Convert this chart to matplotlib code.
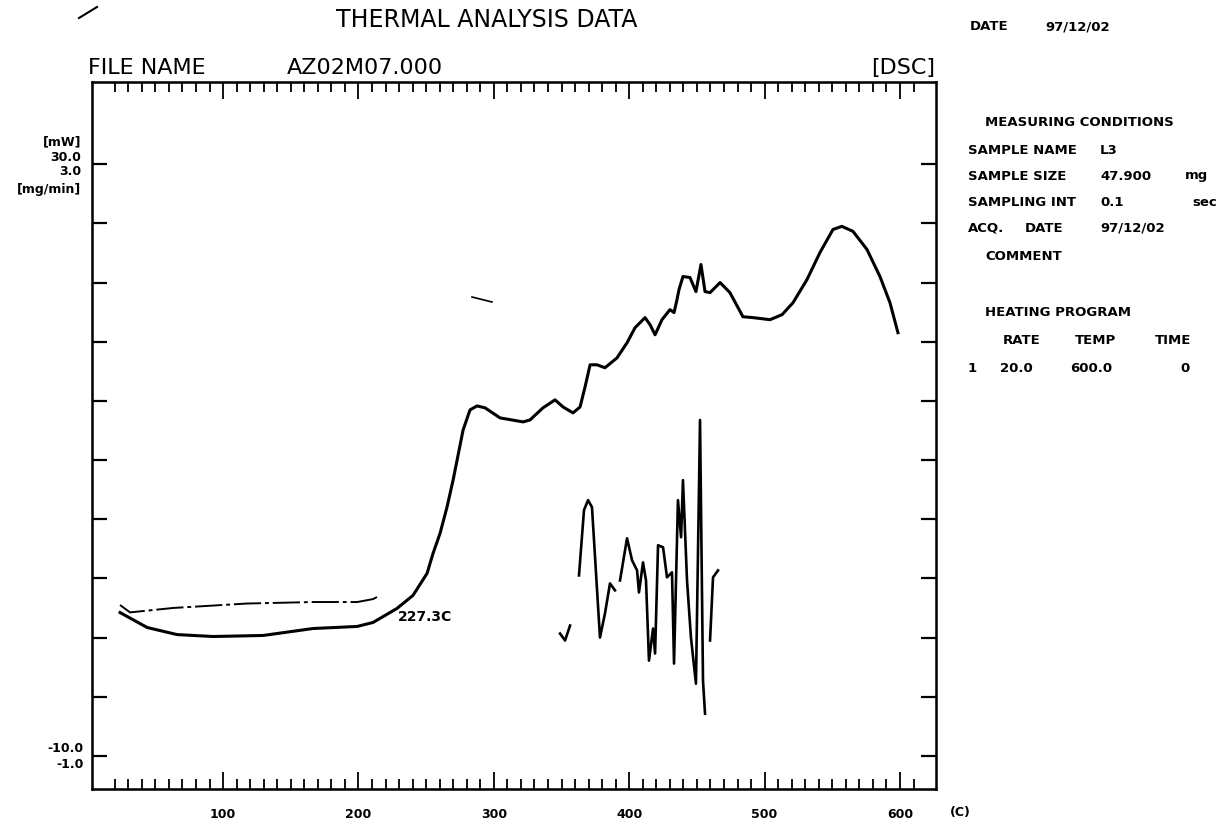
import numpy as np
import matplotlib
matplotlib.use('Agg')
import matplotlib.pyplot as plt
from matplotlib.lines import Line2D

# DSC trace (temperature in C, heat flow in mW)
temp_dsc = [23.9, 43.9, 66.0, 92.6, 129.5, 166.5, 199.0, 210.8, 228.5, 240.3,
            250.7, 255.1, 260.3, 265.4, 269.9, 277.3, 282.4, 287.6, 293.5, 304.6,
            321.6, 326.7, 336.3, 345.2, 351.1, 358.5, 363.7, 367.4, 371.1, 376.2,
            382.1, 391.0, 398.4, 404.3, 411.7, 415.4, 419.1, 424.2, 430.1, 433.1,
            435.3, 436.8, 439.7, 444.9, 449.3, 453.0, 456.0, 459.7, 467.1, 474.4,
            484.0, 491.4, 504.0, 512.9, 521.0, 531.3, 540.9, 550.5, 557.1, 565.3,
            575.6, 585.2, 592.6, 598.5]
dsc_mw = [-0.31, -1.32, -1.80, -1.93, -1.86, -1.39, -1.25, -0.98, -0.03, 0.85,
          2.34, 3.69, 5.05, 6.81, 8.64, 12.03, 13.39, 13.66, 13.53, 12.85,
          12.58, 12.71, 13.53, 14.07, 13.59, 13.19, 13.59, 14.95, 16.44, 16.44,
          16.24, 16.91, 17.93, 18.95, 19.63, 19.15, 18.47, 19.49, 20.17, 19.97,
          20.85, 21.53, 22.41, 22.34, 21.39, 23.22, 21.39, 21.32, 22.00, 21.32,
          19.69, 19.63, 19.49, 19.83, 20.64, 22.20, 24.03, 25.59, 25.80, 25.46,
          24.24, 22.41, 20.64, 18.61]

# dash-dot baseline of the derivative trace (mg/min)
temp_base = [23.9, 31.3, 63.1, 117.7, 166.5, 199.0, 210.8, 216.0]
base_rate = [0.02, -0.03, 0.00, 0.03, 0.04, 0.04, 0.06, 0.085]

# noisy derivative trace (mg/min), nan = pen lifted
nan = np.nan
temp_noise = [348.9, 352.6, 356.3, nan, 362.9, 366.6, 369.6, 372.5, 378.4, 382.1,
              385.8, 389.5, nan, 393.2, 398.4, 402.1, 405.8, 407.2, 410.2, 412.4,
              414.6, 417.6, 419.1, 421.3, 425.0, 427.9, 431.6, 433.1, 436.0, 438.3,
              439.7, 442.7, 445.6, 449.3, 452.3, 454.5, 456.0, nan, 459.7, 461.9, 465.6]
noise_rate = [-0.173, -0.22, -0.119, nan, 0.22, 0.661, 0.729, 0.681, -0.2, -0.037,
              0.166, 0.119, nan, 0.186, 0.471, 0.322, 0.254, 0.105, 0.308, 0.186,
              -0.356, -0.139, -0.308, 0.424, 0.41, 0.207, 0.241, -0.376, 0.729, 0.478,
              0.864, 0.186, -0.2, -0.512, 1.271, -0.492, -0.715, nan, -0.22, 0.207, 0.254]

x_major = [100, 200, 300, 400, 500, 600]
x_labels = ['100', '200', '300', '400', '500', '600']

W, H = 1226, 825


def fx(x):
    return x / W


def fy(y):
    return 1 - y / H


fig = plt.figure(figsize=(W / 100, H / 100), dpi=100)
fig.patch.set_facecolor('white')

ax = fig.add_axes([fx(92), fy(789), fx(936) - fx(92), fy(82) - fy(789)])
ax.set_xlim(3.2, 626.6)
ax.set_ylim(-12.24, 35.56)

ax.plot(temp_dsc, dsc_mw, color='black', lw=2.2, solid_joinstyle='round')
ax.text(229, -0.64, '227.3C', fontsize=10, fontweight='bold', ha='left', va='center')

for s in ax.spines.values():
    s.set_linewidth(1.8)

ax.set_xticks(x_major)
ax.set_xticklabels(x_labels, fontsize=9, fontweight='bold')
ax.set_xticks(np.arange(20, 611, 10), minor=True)
ax.tick_params(axis='x', which='both', direction='in', top=True, bottom=True, width=1.3)
ax.tick_params(axis='x', which='major', length=12, pad=14)
ax.tick_params(axis='x', which='minor', length=7.5)
ax.set_yticks(np.arange(-10, 31, 4))
ax.tick_params(axis='y', which='major', direction='in', left=True, right=False,
               length=11, width=1.6, labelleft=False)

ax2 = ax.twinx()
ax2.set_ylim(-1.224, 3.556)
ax2.plot(temp_base, base_rate, color='black', lw=1.4, dashes=(14, 2, 2, 2))
ax2.plot(temp_noise, noise_rate, color='black', lw=1.9)
ax2.set_yticks(np.arange(-1.0, 3.01, 0.4))
ax2.tick_params(axis='y', direction='in', length=11, width=1.6, labelright=False)

# y axis annotations
lab = dict(fontsize=9, fontweight='bold', ha='right', va='center',
           xycoords=('axes fraction', 'data'), textcoords='offset points')
ax.annotate('[mW]', xy=(0, 30), xytext=(-8, 16), **lab)
ax.annotate('30.0', xy=(0, 30), xytext=(-8, 5), **lab)
ax.annotate('3.0', xy=(0, 30), xytext=(-8, -5), **lab)
ax.annotate('[mg/min]', xy=(0, 30), xytext=(-8, -18), **lab)
ax.annotate('-10.0', xy=(0, -10), xytext=(-6, 5), **lab)
ax.annotate('-1.0', xy=(0, -10), xytext=(-6, -6), **lab)
ax.annotate('(C)', xy=(1, 0), xycoords='axes fraction', xytext=(10, -17),
            textcoords='offset points', fontsize=9, fontweight='bold', ha='left', va='center')

# header
fig.text(fx(487), fy(20), 'THERMAL ANALYSIS DATA', fontsize=17, ha='center', va='center')
fig.text(fx(88), fy(68), 'FILE NAME', fontsize=16, ha='left', va='center')
fig.text(fx(287), fy(68), 'AZ02M07.000', fontsize=16, ha='left', va='center')
fig.text(fx(935), fy(68), '[DSC]', fontsize=16, ha='right', va='center')

# measuring conditions panel
bold = dict(fontsize=9.5, fontweight='bold', va='center', ha='left')
fig.text(fx(970), fy(27), 'DATE', **bold)
fig.text(fx(1045), fy(27), '97/12/02', **bold)
fig.text(fx(985), fy(122), 'MEASURING CONDITIONS', **bold)
fig.text(fx(968), fy(151), 'SAMPLE NAME', **bold)
fig.text(fx(1100), fy(151), 'L3', **bold)
fig.text(fx(968), fy(176), 'SAMPLE SIZE', **bold)
fig.text(fx(1100), fy(176), '47.900', **bold)
fig.text(fx(1185), fy(176), 'mg', **bold)
fig.text(fx(968), fy(202), 'SAMPLING INT', **bold)
fig.text(fx(1100), fy(202), '0.1', **bold)
fig.text(fx(1192), fy(202), 'sec', **bold)
fig.text(fx(968), fy(228), 'ACQ.', **bold)
fig.text(fx(1025), fy(228), 'DATE', **bold)
fig.text(fx(1100), fy(228), '97/12/02', **bold)
fig.text(fx(985), fy(256), 'COMMENT', **bold)
fig.text(fx(985), fy(312), 'HEATING PROGRAM', **bold)
fig.text(fx(1003), fy(340), 'RATE', **bold)
fig.text(fx(1075), fy(340), 'TEMP', **bold)
fig.text(fx(1155), fy(340), 'TIME', **bold)
fig.text(fx(968), fy(368), '1', **bold)
fig.text(fx(1000), fy(368), '20.0', **bold)
fig.text(fx(1070), fy(368), '600.0', **bold)
fig.text(fx(1180), fy(368), '0', **bold)

# scanner specks
fig.add_artist(Line2D([fx(79), fx(97)], [fy(18), fy(7)], color='black', lw=1.5))
fig.add_artist(Line2D([fx(472), fx(492)], [fy(297), fy(302)], color='black', lw=1.2))

fig.savefig('out.png', dpi=100, facecolor='white')
